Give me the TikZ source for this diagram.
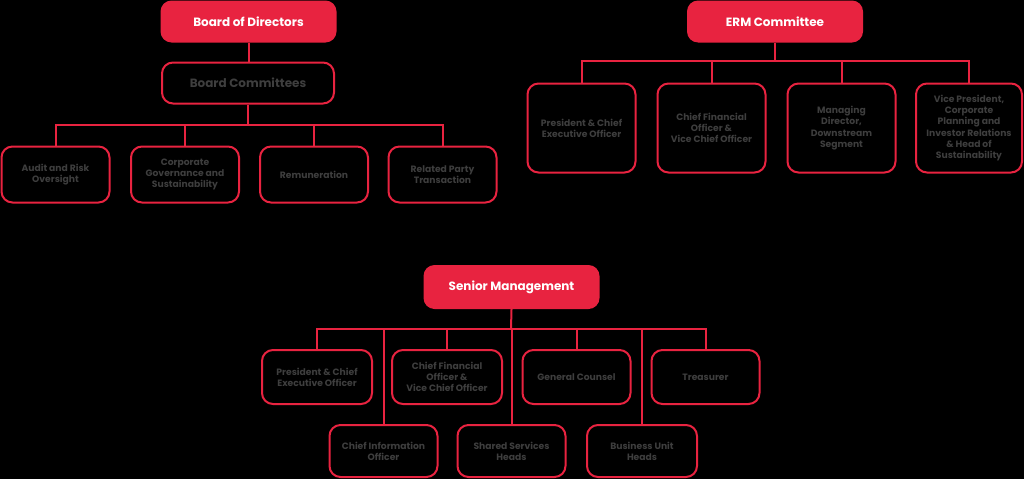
\documentclass[tikz,border=0pt]{standalone}
\usepackage{fontspec}
\setmainfont{Poppins}
\begin{document}
\begin{tikzpicture}[x=1pt,y=-1pt]
\definecolor{fillColor}{RGB}{0,0,0}
\definecolor{redColor}{RGB}{232,35,64}
\definecolor{textColor}{RGB}{62,62,62}
\tikzset{
  head/.style={fill=redColor, rounded corners=11pt, text=white, inner sep=0pt,
    font=\bfseries\fontsize{12}{14}\selectfont, minimum width=176pt, minimum height=42pt},
  unit/.style={draw=redColor, line width=2pt, rounded corners=11pt, text=textColor, inner sep=0pt,
    align=center, font=\bfseries\fontsize{9.2}{11.3}\selectfont, minimum width=108pt},
  link/.style={draw=redColor, line width=2pt}
}
\path[use as bounding box,fill=fillColor] (0,0) rectangle (1024,479);

% board
\node[head] (bod) at (248.5, 21.5) {Board of Directors};
\node[unit, minimum width=172pt, minimum height=41pt, font=\bfseries\fontsize{12}{14}\selectfont] (bc) at (248.0, 83.0) {Board Committees};
\coordinate (bcbus) at (248, 125);

\node[unit, minimum height=56pt] (bc1) at ( 55.5,174.5) {Audit and Risk\\Oversight};
\node[unit, minimum height=56pt] (bc2) at (185.0,174.5) {Corporate\\Governance and\\Sustainability};
\node[unit, minimum height=56pt] (bc3) at (314.0,174.5) {Remuneration};
\node[unit, minimum height=56pt] (bc4) at (442.5,174.5) {Related Party\\Transaction};

\draw[link] (bod.south) -- (bod.south |- bc.north);
\draw[link] (bc.south) -- (bcbus);
\foreach \k in {bc1,bc2,bc3,bc4}
  \draw[link] (\k.north) |- (bcbus);

% erm
\node[head] (erm) at (775.0, 21.5) {ERM Committee};
\coordinate (ermbus) at (775, 61);

\node[unit, minimum height=89pt] (erm1) at (581.5,128.0) {President \& Chief\\Executive Officer};
\node[unit, minimum height=89pt] (erm2) at (711.5,128.0) {Chief Financial\\Officer \&\\Vice Chief Officer};
\node[unit, minimum height=89pt] (erm3) at (841.5,128.0) {Managing\\Director,\\Downstream\\Segment};
\node[unit, minimum height=89pt, minimum width=106pt] (erm4) at (969.0,128.0) {Vice President,\\Corporate\\Planning and\\Investor Relations\\\& Head of\\Sustainability};

\draw[link] (erm.south) -- (ermbus);
\foreach \k in {erm1,erm2,erm3,erm4}
  \draw[link] (\k.north) |- (ermbus);

% senior
\node[head, minimum height=44pt] (sm) at (511.5,287.0) {Senior Management};
\coordinate (smbus) at (511, 329);

\node[unit, minimum height=54pt, minimum width=110pt] (sm1) at (317.0,377.0) {President \& Chief\\Executive Officer};
\node[unit, minimum height=54pt, minimum width=110pt] (sm2) at (447.0,377.0) {Chief Financial\\Officer \&\\Vice Chief Officer};
\node[unit, minimum height=54pt] (sm3) at (576.5,377.0) {General Counsel};
\node[unit, minimum height=54pt] (sm4) at (705.5,377.0) {Treasurer};

\node[unit, minimum height=52pt] (sm5) at (383.5,451.0) {Chief Information\\Officer};
\node[unit, minimum height=52pt] (sm6) at (511.5,451.0) {Shared Services\\Heads};
\node[unit, minimum height=52pt, minimum width=110pt] (sm7) at (642.0,451.0) {Business Unit\\Heads};

\draw[link] (sm.south) -- (smbus);
\foreach \k in {sm1,sm2,sm3,sm4,sm5,sm6,sm7}
  \draw[link] (\k.north) |- (smbus);
\end{tikzpicture}
\end{document}
